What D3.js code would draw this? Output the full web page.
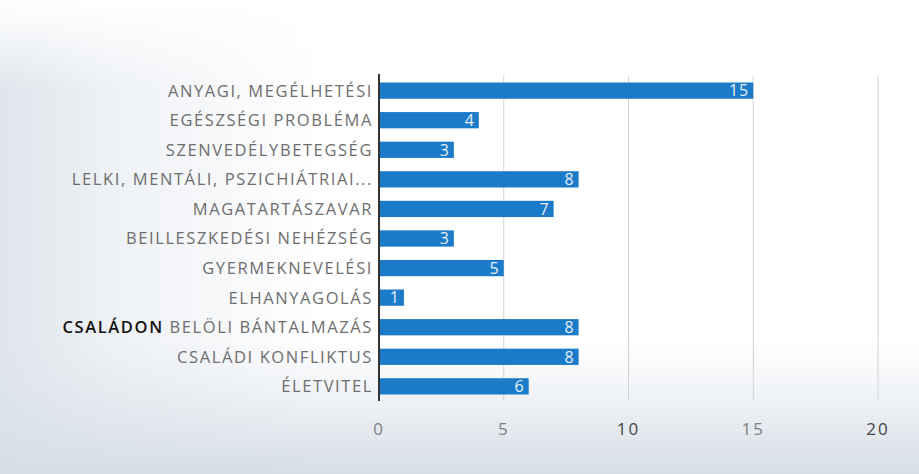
<!DOCTYPE html>
<html>
<head>
<meta charset="utf-8">
<script src="https://cdn.jsdelivr.net/npm/d3@7"></script>
<style>
  body { margin: 0; background: #fff; }
  svg { display: block; }
</style>
</head>
<body>
<div id="chart"></div>
<script>
// categories top to bottom
const categories = [
  'ANYAGI, MEGÉLHETÉSI',
  'EGÉSZSÉGI PROBLÉMA',
  'SZENVEDÉLYBETEGSÉG',
  'LELKI, MENTÁLI, PSZICHIÁTRIAI...',
  'MAGATARTÁSZAVAR',
  'BEILLESZKEDÉSI NEHÉZSÉG',
  'GYERMEKNEVELÉSI',
  'ELHANYAGOLÁS',
  'CSALÁDON BELÖLI BÁNTALMAZÁS',
  'CSALÁDI KONFLIKTUS',
  'ÉLETVITEL'
];
const values = [15, 4, 3, 8, 7, 3, 5, 1, 8, 8, 6];
const ticks = [0, 5, 10, 15, 20];

const width = 919;
const height = 474;

const svg = d3.select('#chart').append('svg')
  .attr('width', width)
  .attr('height', height);

// scanned paper look: faint bluish wash on the left and bottom
const defs = svg.append('defs');
const gradL = defs.append('linearGradient').attr('id', 'washL')
  .attr('x1', 0).attr('x2', 1).attr('y1', 0).attr('y2', 0);
gradL.append('stop').attr('offset', '0%').attr('stop-color', '#dfe5ec');
gradL.append('stop').attr('offset', '12%').attr('stop-color', '#eef1f5');
gradL.append('stop').attr('offset', '35%').attr('stop-color', '#ffffff');
const gradB = defs.append('linearGradient').attr('id', 'washB')
  .attr('x1', 0).attr('x2', 0).attr('y1', 0).attr('y2', 1);
gradB.append('stop').attr('offset', '0%').attr('stop-color', '#dde4ec').attr('stop-opacity', 0);
gradB.append('stop').attr('offset', '100%').attr('stop-color', '#d6dde6').attr('stop-opacity', 1);
const gradT = defs.append('linearGradient').attr('id', 'washT')
  .attr('x1', 0).attr('x2', 0).attr('y1', 0).attr('y2', 1);
gradT.append('stop').attr('offset', '0%').attr('stop-color', '#ffffff').attr('stop-opacity', 1);
gradT.append('stop').attr('offset', '100%').attr('stop-color', '#ffffff').attr('stop-opacity', 0);

svg.append('rect').attr('width', width).attr('height', height).attr('fill', 'url(#washL)');
svg.append('rect').attr('width', width).attr('height', 90).attr('fill', 'url(#washT)');
svg.append('rect').attr('y', 340).attr('width', width).attr('height', height - 340).attr('fill', 'url(#washB)');

const x = d3.scaleLinear()
  .domain([0, 20])
  .range([379, 878]);

const y = d3.scaleBand()
  .domain(categories)
  .range([76, 401])
  .paddingInner(0.45)
  .paddingOuter(0.22);

// gridlines
svg.append('g')
  .selectAll('line')
  .data(ticks.slice(1))
  .join('line')
  .attr('x1', d => x(d))
  .attr('x2', d => x(d))
  .attr('y1', 76)
  .attr('y2', 401)
  .attr('stroke', '#d2d2d2')
  .attr('stroke-width', 1);

// bars
svg.append('g')
  .selectAll('rect')
  .data(values)
  .join('rect')
  .attr('x', x(0))
  .attr('y', (d, i) => y(categories[i]))
  .attr('width', d => x(d) - x(0))
  .attr('height', y.bandwidth())
  .attr('fill', '#1b7bc9');

// value labels
svg.append('g')
  .selectAll('text')
  .data(values)
  .join('text')
  .attr('x', d => x(d) - 4)
  .attr('y', (d, i) => y(categories[i]) + y.bandwidth() / 2)
  .attr('dy', '0.36em')
  .attr('text-anchor', 'end')
  .attr('fill', '#e8f0f8')
  .style('font-family', 'Open Sans, sans-serif')
  .style('font-size', '16px')
  .style('letter-spacing', '1px')
  .text(d => d);

// category axis line
svg.append('line')
  .attr('x1', x(0)).attr('x2', x(0))
  .attr('y1', 74).attr('y2', 401)
  .attr('stroke', '#333')
  .attr('stroke-width', 2);

// category labels
const catLabels = svg.append('g')
  .selectAll('text')
  .data(categories)
  .join('text')
  .attr('x', x(0) - 6)
  .attr('y', d => y(d) + y.bandwidth() / 2)
  .attr('dy', '0.36em')
  .attr('text-anchor', 'end')
  .attr('fill', '#6e6e6e')
  .style('font-family', 'Open Sans, sans-serif')
  .style('font-size', '16.5px')
  .style('letter-spacing', '1.6px');

catLabels.each(function(d) {
  const t = d3.select(this);
  if (d.startsWith('CSALÁDON ')) {
    t.append('tspan').attr('fill', '#111').style('font-weight', 600).text('CSALÁDON ');
    t.append('tspan').text(d.slice(9));
  } else {
    t.text(d);
  }
});

// value axis tick labels
svg.append('g')
  .selectAll('text')
  .data(ticks)
  .join('text')
  .attr('x', d => x(d))
  .attr('y', 429)
  .attr('dy', '0.36em')
  .attr('text-anchor', 'middle')
  .attr('fill', d => (d === 10 || d === 20) ? '#444' : '#808080')
  .style('font-family', 'Open Sans, sans-serif')
  .style('font-size', '17px')
  .style('letter-spacing', '2px')
  .text(d => d);
</script>
</body>
</html>
